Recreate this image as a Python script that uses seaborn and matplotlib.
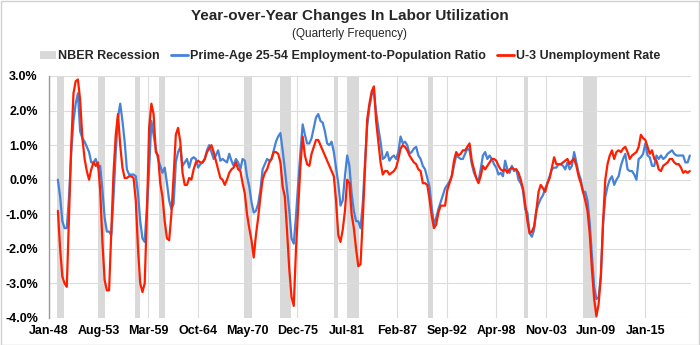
import numpy as np
import pandas as pd
import matplotlib
matplotlib.use("Agg")
import matplotlib.pyplot as plt
from matplotlib.patches import Patch, Rectangle
from matplotlib.lines import Line2D
import seaborn as sns

# ---------------- data ----------------
start_quarter = "1949-01-01"

prime_age_epop = [
    0.0, -0.5, -1.2, -1.4,     # 1949
    -1.4, -0.5, 0.8, 1.7,      # 1950
    2.2, 2.5, 1.4, 1.2,        # 1951
    1.1, 0.95, 0.8, 0.5,       # 1952
    0.5, 0.6, 0.35, 0.4,       # 1953
    -0.3, -1.1, -1.5, -1.5,    # 1954
    -1.6, -0.5, 0.8, 1.8,      # 1955
    2.2, 1.7, 1.1, 0.3,        # 1956
    0.15, 0.15, 0.15, 0.1,     # 1957
    -0.4, -1.2, -1.7, -1.8,    # 1958
    -0.8, 0.3, 1.7, 1.3,       # 1959
    0.9, 0.6, 0.4, 0.2,        # 1960
    0.35, -0.1, -0.6, -0.85,   # 1961
    -0.7, 0.5, 0.8, 0.95,      # 1962
    0.4, 0.5, 0.6, 0.35,       # 1963
    0.6, 0.65, 0.6, 0.35,      # 1964
    0.45, 0.5, 0.6, 0.85,      # 1965
    1.0, 0.8, 0.6, 0.7,        # 1966
    0.85, 0.55, 0.6, 0.55,     # 1967
    0.5, 0.75, 0.55, 0.4,      # 1968
    0.6, 0.5, 0.3, 0.6,        # 1969
    0.55, 0.1, -0.2, -0.65,    # 1970
    -0.95, -0.9, -0.7, -0.3,   # 1971
    0.3, 0.45, 0.6, 0.55,      # 1972
    0.6, 0.85, 1.1, 1.25,      # 1973
    1.35, 0.85, 0.3, -0.3,     # 1974
    -0.9, -1.7, -1.85, -1.05,  # 1975
    -0.1, 0.8, 1.6, 1.3,       # 1976
    1.05, 1.05, 1.2, 1.5,      # 1977
    1.8, 1.9, 1.7, 1.65,       # 1978
    1.4, 1.05, 1.0, 1.1,       # 1979
    0.8, 0.35, -0.1, -0.75,    # 1980
    -0.6, 0.1, 0.7, 0.4,       # 1981
    -0.4, -0.9, -1.2, -1.2,    # 1982
    -1.4, -0.7, 0.5, 1.55,     # 1983
    2.1, 2.45, 2.6, 1.95,      # 1984
    1.5, 1.1, 0.6, 0.65,       # 1985
    0.8, 0.55, 0.65, 0.7,      # 1986
    0.6, 0.8, 1.25, 1.05,      # 1987
    1.1, 1.0, 0.75, 0.8,       # 1988
    0.9, 0.95, 0.7, 0.6,       # 1989
    0.4, 0.3, 0.05, -0.2,      # 1990
    -0.8, -1.3, -1.1, -0.85,   # 1991
    -0.65, -0.45, -0.25, -0.15,  # 1992
    -0.05, 0.1, 0.4, 0.7,      # 1993
    0.65, 0.6, 0.6, 0.75,      # 1994
    0.9, 0.85, 0.45, 0.2,      # 1995
    0.05, -0.05, 0.3, 0.7,     # 1996
    0.8, 0.6, 0.7, 0.6,        # 1997
    0.45, 0.35, 0.15, 0.2,     # 1998
    0.1, 0.55, 0.3, 0.2,       # 1999
    0.4, 0.25, 0.3, 0.0,       # 2000
    -0.1, -0.3, -0.85, -0.95,  # 2001
    -1.55, -1.65, -1.45, -0.9, # 2002
    -0.7, -0.55, -0.45, -0.25, # 2003
    -0.1, 0.1, 0.3, 0.35,      # 2004
    0.35, 0.45, 0.45, 0.4,     # 2005
    0.3, 0.5, 0.3, 0.4,        # 2006
    0.8, 0.5, 0.2, 0.0,        # 2007
    -0.35, -0.35, -0.6, -1.25, # 2008
    -2.2, -3.1, -3.45, -3.4,   # 2009
    -2.8, -1.3, -0.5, -0.2,    # 2010
    0.0, 0.1, -0.15, 0.0,      # 2011
    0.1, 0.4, 0.6, 0.75,       # 2012
    0.3, 0.25, 0.25, 0.15,     # 2013
    0.0, 0.6, 0.65, 0.75,      # 2014
    1.05, 0.7, 0.65, 0.4,      # 2015
    0.4, 0.7, 0.6, 0.7,        # 2016
    0.6, 0.65, 0.75, 0.8,      # 2017
    0.85, 0.75, 0.7, 0.7,      # 2018
    0.7, 0.7, 0.5, 0.5,        # 2019
    0.7,                       # 2020
]

u3_unemployment = [
    -0.9, -2.0, -2.8, -3.0,    # 1949
    -3.1, -1.0, 1.0, 2.5,      # 1950
    2.85, 2.9, 2.3, 1.2,       # 1951
    0.6, 0.25, 0.0, 0.3,       # 1952
    0.5, 0.4, 0.5, -0.3,       # 1953
    -1.8, -2.9, -3.2, -3.2,    # 1954
    -1.5, 0.2, 1.3, 1.9,       # 1955
    1.0, 0.35, 0.05, 0.05,     # 1956
    0.1, 0.1, 0.05, -0.6,      # 1957
    -2.0, -3.0, -3.25, -3.0,   # 1958
    -1.0, 1.5, 2.2, 1.9,       # 1959
    0.8, 0.7, -0.1, -0.5,      # 1960
    -1.2, -1.7, -1.75, -1.0,   # 1961
    0.1, 1.3, 1.5, 1.1,        # 1962
    0.2, -0.15, -0.15, 0.05,   # 1963
    0.0, 0.3, 0.5, 0.55,       # 1964
    0.5, 0.5, 0.6, 0.8,        # 1965
    0.9, 1.0, 0.8, 0.55,       # 1966
    0.3, 0.05, 0.0, -0.15,     # 1967
    0.0, 0.2, 0.3, 0.35,       # 1968
    0.5, 0.3, 0.25, -0.1,      # 1969
    -0.4, -1.0, -1.4, -1.75,   # 1970
    -2.25, -1.6, -1.1, -0.5,   # 1971
    0.0, 0.2, 0.3, 0.5,        # 1972
    0.6, 0.8, 0.8, 0.75,       # 1973
    0.5, -0.2, -0.5, -1.5,     # 1974
    -2.6, -3.4, -3.65, -2.0,   # 1975
    -0.8, 0.4, 1.25, 0.7,      # 1976
    0.45, 0.4, 0.75, 0.95,     # 1977
    1.15, 1.15, 1.0, 0.85,     # 1978
    0.7, 0.55, 0.4, 0.25,      # 1979
    0.1, -0.6, -1.6, -1.8,     # 1980
    -1.45, -0.9, 0.0, -0.1,    # 1981
    -1.0, -1.4, -2.0, -2.5,    # 1982
    -2.45, -1.15, 0.3, 1.75,   # 1983
    2.2, 2.55, 2.7, 1.7,       # 1984
    1.1, 0.5, 0.15, 0.25,      # 1985
    0.25, 0.15, 0.2, 0.25,     # 1986
    0.35, 0.6, 0.9, 1.0,       # 1987
    0.95, 0.85, 0.7, 0.6,      # 1988
    0.5, 0.45, 0.3, 0.25,      # 1989
    -0.1, -0.1, -0.15, -0.55,  # 1990
    -1.05, -1.4, -1.3, -0.95,  # 1991
    -0.75, -0.75, -0.75, -0.3, # 1992
    -0.1, 0.1, 0.55, 0.8,      # 1993
    0.7, 0.75, 0.85, 0.85,     # 1994
    0.95, 1.05, 0.55, 0.3,     # 1995
    0.05, -0.1, 0.1, 0.4,      # 1996
    0.3, 0.4, 0.5, 0.6,        # 1997
    0.6, 0.55, 0.4, 0.3,       # 1998
    0.25, 0.3, 0.2, 0.3,       # 1999
    0.35, 0.3, 0.3, 0.2,       # 2000
    0.0, -0.25, -0.7, -1.2,    # 2001
    -1.55, -1.5, -1.35, -0.9,  # 2002
    -0.35, -0.15, -0.25, -0.35,  # 2003
    -0.1, 0.05, 0.35, 0.65,    # 2004
    0.45, 0.45, 0.45, 0.5,     # 2005
    0.55, 0.6, 0.45, 0.55,     # 2006
    0.6, 0.4, 0.1, -0.1,       # 2007
    -0.35, -0.6, -0.9, -1.55,  # 2008
    -2.6, -3.45, -3.95, -3.6,  # 2009
    -2.8, -1.2, 0.0, 0.45,     # 2010
    0.7, 0.85, 0.6, 0.8,       # 2011
    0.85, 0.8, 0.9, 0.95,      # 2012
    0.8, 0.6, 0.7, 0.75,       # 2013
    0.8, 0.95, 1.3, 1.2,       # 2014
    1.15, 0.95, 0.75, 0.85,    # 2015
    0.6, 0.55, 0.3, 0.25,      # 2016
    0.4, 0.45, 0.5, 0.6,       # 2017
    0.6, 0.5, 0.45, 0.45,      # 2018
    0.35, 0.2, 0.25, 0.2,      # 2019
    0.25,                      # 2020
]

# NBER recession shading (decimal years)
recession_start = [1948.90, 1953.51, 1957.63, 1960.32, 1969.95, 1973.96,
                   1980.06, 1981.56, 1990.58, 2001.37, 2008.04]
recession_end = [1949.65, 1954.26, 1958.19, 1961.07, 1970.77, 1975.16,
                 1980.44, 1982.80, 1991.15, 2001.86, 2009.46]

x_tick_labels = ["Jan-48", "Aug-53", "Mar-59", "Oct-64", "May-70", "Dec-75",
                 "Jul-81", "Feb-87", "Sep-92", "Apr-98", "Nov-03", "Jun-09",
                 "Jan-15"]
y_ticks = [-4, -3, -2, -1, 0, 1, 2, 3]

series_names = ["Prime-Age 25-54 Employment-to-Population Ratio",
                "U-3 Unemployment Rate"]
series_colors = ["#4582D8", "#FF1E00"]

# ---------------- build table ----------------
dates = pd.date_range(start_quarter, periods=len(prime_age_epop), freq="QS")
dec_year = dates.year + (dates.month - 1) / 12.0
df = pd.concat([
    pd.DataFrame({"year": dec_year, "value": prime_age_epop, "series": series_names[0]}),
    pd.DataFrame({"year": dec_year, "value": u3_unemployment, "series": series_names[1]}),
], ignore_index=True)

# ---------------- style ----------------
sns.set_theme(style="white")
plt.rcParams["font.family"] = ["Liberation Sans", "DejaVu Sans"]

fig = plt.figure(figsize=(7.0, 3.45), dpi=100)
ax = fig.add_axes([49 / 700, 1 - 318 / 345, (691 - 49) / 700, (318 - 76) / 345])

grey_rec = "#D9D9D9"
for s, e in zip(recession_start, recession_end):
    ax.axvspan(s, e, color=grey_rec, lw=0, zorder=0)

sns.lineplot(data=df, x="year", y="value", hue="series", hue_order=series_names,
             palette=series_colors, linewidth=1.6, legend=False, ax=ax, zorder=3)

ax.set_xlim(1948.0, 2020.13)
ax.set_ylim(-4, 3)

tick_pos = [1948 + k * 67 / 12 for k in range(len(x_tick_labels))]
ax.set_xticks(tick_pos)
ax.set_xticklabels(x_tick_labels, fontsize=9, fontweight="bold")
ax.set_yticks(y_ticks)
ax.set_yticklabels([f"{v:.1f}%" for v in y_ticks], fontsize=9, fontweight="bold")
ax.tick_params(axis="x", length=0, pad=5, colors="#000000")
ax.tick_params(axis="y", length=0, pad=8, colors="#000000")
ax.set_xlabel("")
ax.set_ylabel("")

ax.grid(True, color="#DCDCDC", linewidth=0.8, zorder=1)
ax.set_axisbelow(True)
for sp in ["top", "right", "bottom"]:
    ax.spines[sp].set_visible(False)
ax.spines["left"].set_color("#9A9A9A")
ax.spines["left"].set_linewidth(1.0)

# zero axis line with small tick marks
sec = ax.secondary_xaxis(4 / 7)
sec.set_xticks(tick_pos)
sec.set_xticklabels([])
sec.tick_params(axis="x", length=3, color="#7F7F7F", width=0.8, direction="out")
sec.spines["bottom"].set_color("#7F7F7F")
sec.spines["bottom"].set_linewidth(1.0)
for sp in ["top", "left", "right"]:
    if sp in sec.spines:
        sec.spines[sp].set_visible(False)

# titles
fig.text(0.5, 1 - 16 / 345, "Year-over-Year Changes In Labor Utilization",
         ha="center", va="center", fontsize=11, fontweight="bold")
fig.text(0.5, 1 - 34 / 345, "(Quarterly Frequency)",
         ha="center", va="center", fontsize=8.5)

handles = [Patch(facecolor=grey_rec, edgecolor="none"),
           Line2D([0], [0], color=series_colors[0], lw=2),
           Line2D([0], [0], color=series_colors[1], lw=2)]
labels = ["NBER Recession"] + series_names
fig.legend(handles, labels, loc="center", bbox_to_anchor=(0.5, 1 - 56 / 345),
           ncol=3, frameon=False, prop={"weight": "bold", "size": 9},
           handlelength=1.3, handletextpad=0.2, columnspacing=0.9,
           handleheight=0.6)

fig.patches.append(Rectangle((0.5 / 700, 0.5 / 345), 698.5 / 700, 343.5 / 345,
                             transform=fig.transFigure, fill=False,
                             edgecolor="#D0D0D0", linewidth=1.0))

fig.savefig("out.png", dpi=100)
